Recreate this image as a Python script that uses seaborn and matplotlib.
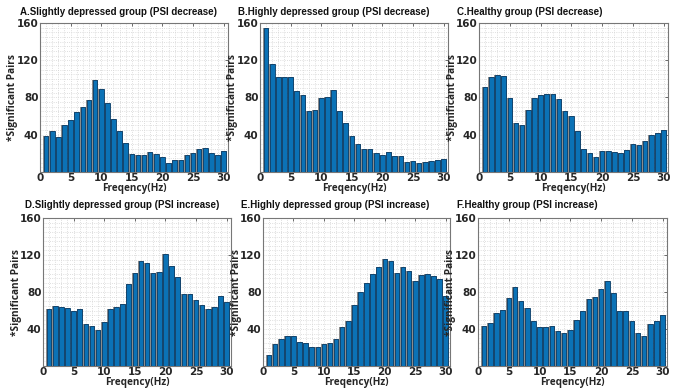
import numpy as np
import pandas as pd
import matplotlib
matplotlib.use("Agg")
import matplotlib.pyplot as plt
from matplotlib.ticker import MultipleLocator
import seaborn as sns

sns.set_theme(style="white")
plt.rcParams["font.family"] = ["Open Sans", "DejaVu Sans"]

freq = list(range(1, 31))

titles = [
    "A.Slightly depressed group (PSI decrease)",
    "B.Highly depressed group (PSI decrease)",
    "C.Healthy group (PSI decrease)",
    "D.Slightly depressed group (PSI increase)",
    "E.Highly depressed group (PSI increase)",
    "F.Healthy group (PSI increase)",
]

slight_decrease = [39, 44, 38, 51, 56, 64, 70, 77, 99, 89, 74, 57, 44, 31, 19,
                   18, 18, 21, 19, 16, 10, 13, 13, 18, 20, 25, 26, 20, 18, 23]
high_decrease = [155, 116, 102, 102, 102, 87, 83, 66, 67, 79, 81, 88, 65, 53, 39,
                 30, 25, 25, 20, 18, 21, 17, 17, 11, 12, 10, 11, 12, 13, 14]
healthy_decrease = [91, 102, 104, 103, 79, 53, 51, 67, 79, 83, 84, 84, 78, 65, 60,
                    44, 25, 20, 16, 23, 23, 22, 20, 24, 30, 29, 33, 40, 42, 45]
slight_increase = [62, 65, 64, 63, 60, 62, 45, 43, 39, 48, 62, 64, 67, 89, 101,
                   113, 111, 101, 102, 121, 108, 96, 78, 78, 71, 66, 62, 64, 76, 69]
high_increase = [12, 24, 29, 32, 32, 26, 25, 21, 21, 24, 25, 29, 42, 49, 66,
                 80, 90, 100, 107, 116, 114, 101, 107, 103, 92, 98, 99, 97, 94, 76]
healthy_increase = [43, 46, 57, 61, 73, 85, 70, 63, 49, 42, 42, 43, 38, 36, 39,
                    50, 60, 72, 75, 83, 92, 79, 60, 59, 49, 36, 32, 45, 49, 55]

series = [slight_decrease, high_decrease, healthy_decrease,
          slight_increase, high_increase, healthy_increase]

W, H = 678, 389
fig = plt.figure(figsize=(W / 100, H / 100), dpi=100)

# axes boxes in pixels: left, top, right, bottom
boxes = [
    (40, 23, 228, 172), (260, 23, 448, 172), (479, 23, 668, 172),
    (43, 218, 231, 366), (263, 218, 450, 366), (478, 218, 667, 366),
]
title_x = [20, 238, 457, 25, 241, 457]
title_y = [12, 12, 12, 205, 205, 205]

blue = "#0b72b6"
edge = "#0a3c66"

for i, (vals, box) in enumerate(zip(series, boxes)):
    l, t, r, b = box
    w_px, h_px = r - l, b - t
    ax = fig.add_axes([l / W, 1 - b / H, w_px / W, h_px / H])
    df = pd.DataFrame({"freq": freq, "pairs": vals})
    sns.barplot(data=df, x="freq", y="pairs", native_scale=True, width=0.98,
                color="#8c8c8c", saturation=1, edgecolor="none", ax=ax, zorder=2)
    sns.barplot(data=df, x="freq", y="pairs", native_scale=True, width=0.74,
                color=blue, saturation=1, edgecolor=edge, linewidth=0.6,
                ax=ax, zorder=3)
    ax.set_xlim(0, 30.7)
    ax.set_ylim(0, 160)
    ax.set_xticks([0, 5, 10, 15, 20, 25, 30])
    ax.set_yticks([40, 80, 120, 160])
    ax.xaxis.set_minor_locator(MultipleLocator(1))
    ax.yaxis.set_minor_locator(MultipleLocator(5))
    ax.grid(which="both", color="#d4d4d4", linestyle=":", linewidth=0.6, zorder=0)
    ax.set_axisbelow(True)
    ax.tick_params(which="major", direction="in", length=2.5, width=0.6,
                   top=True, right=True, labelsize=7.5, pad=1.0, color="#555555")
    ax.tick_params(which="minor", length=0)
    for lab in ax.get_xticklabels() + ax.get_yticklabels():
        lab.set_fontweight("bold")
        lab.set_family(["DejaVu Sans"])
    for s in ax.spines.values():
        s.set_color("#777777")
        s.set_linewidth(0.8)
    ax.set_xlabel("Freqency(Hz)", fontsize=7.2, fontweight="bold")
    ax.set_ylabel("*Significant Pairs", fontsize=7.3, fontweight="bold")
    ax.xaxis.set_label_coords(0.5, -11 / h_px)
    ax.yaxis.set_label_coords(-21.5 / w_px, 0.5)
    fig.text(title_x[i] / W, 1 - title_y[i] / H, titles[i], fontsize=7,
             family=["Liberation Sans", "DejaVu Sans"], fontweight="bold",
             ha="left", va="center", color="#111111")

fig.savefig("out.png", dpi=100, facecolor="white")
